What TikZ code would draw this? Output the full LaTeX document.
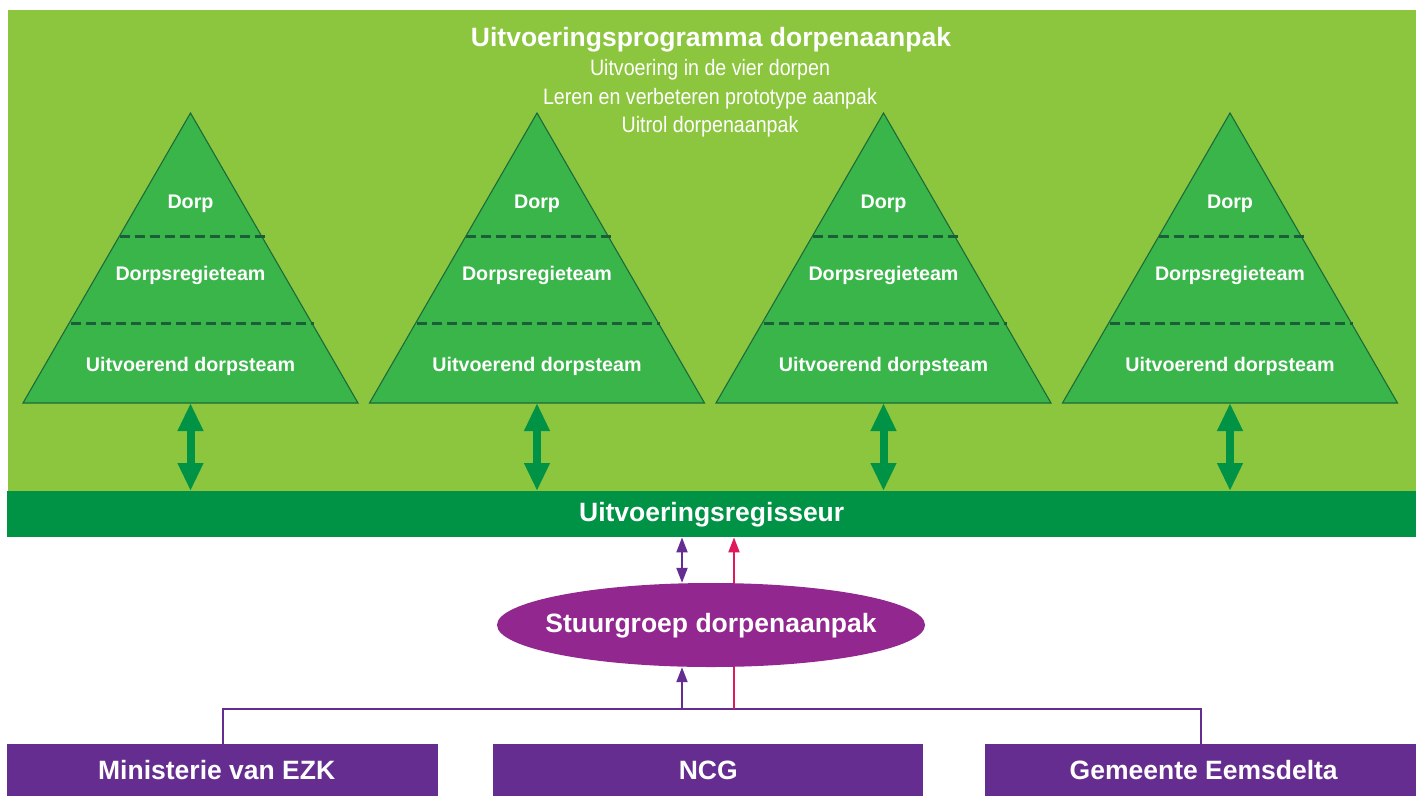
\documentclass[tikz,border=0pt]{standalone}
\usepackage{fontspec}
\setmainfont{Liberation Sans}
\newfontfamily\narrowfont[FakeStretch=0.88]{Liberation Sans}
\usetikzlibrary{arrows.meta,shapes.geometric,calc}
\definecolor{lgreen}{HTML}{8CC63F}
\definecolor{tgreen}{HTML}{39B54A}
\definecolor{dgreen}{HTML}{009245}
\definecolor{edgegreen}{HTML}{1B6B3A}
\definecolor{dashgreen}{HTML}{1D5E3A}
\definecolor{boxpurple}{HTML}{662D91}
\definecolor{ellpurple}{HTML}{92278F}
\definecolor{redline}{HTML}{E0195A}
\tikzset{
  bigtxt/.style={text=white,font=\fontsize{26.5}{30}\selectfont\bfseries,inner sep=0pt},
  tritxt/.style={text=white,font=\fontsize{19.7}{22}\selectfont\bfseries,inner sep=0pt,anchor=base},
  subtxt/.style={text=white,font=\fontsize{22.3}{26}\selectfont\narrowfont,inner sep=0pt,anchor=base},
  tri/.style={fill=tgreen,draw=edgegreen,line width=1.1pt,line join=miter},
  tridash/.style={draw=dashgreen,line width=3pt,dash pattern=on 10pt off 5pt},
  garrow/.style={draw=dgreen,line width=8pt,{Triangle[width=24pt,length=28pt]}-{Triangle[width=24pt,length=28pt]}},
  orgbox/.style={bigtxt,fill=boxpurple,minimum width=431pt,minimum height=52pt,text height=19pt,text depth=0pt},
  pline/.style={draw=boxpurple,line width=2pt},
  ptip/.style={-{Triangle[width=11pt,length=15pt]}},
  pdtip/.style={{Triangle[width=11pt,length=15pt]}-{Triangle[width=11pt,length=15pt]}},
}
\begin{document}
\begin{tikzpicture}[x=1pt,y=-1pt]
\useasboundingbox (0,0) rectangle (1421,796);
\fill[white] (0,0) rectangle (1421,796);
% green panel
\node[fill=lgreen,minimum width=1408pt,minimum height=481pt,inner sep=0pt,anchor=north west] (panel) at (8,10) {};
% title
\node[bigtxt,anchor=base] (title) at (711,46) {Uitvoeringsprogramma dorpenaanpak};
\node[subtxt] (sub1) at (710,75) {Uitvoering in de vier dorpen};
\node[subtxt] (sub2) at (710,104) {Leren en verbeteren prototype aanpak};
\node[subtxt] (sub3) at (710,132) {Uitrol dorpenaanpak};
% bar
\node[bigtxt,fill=dgreen,minimum width=1409pt,minimum height=46pt,text height=19pt,text depth=4pt,anchor=north west] (bar) at (7,491) {Uitvoeringsregisseur};
% triangles
\foreach \cx/\n in {190.5/1,537/2,883.5/3,1230/4}{
  \coordinate (apex\n) at (\cx,113);
  \coordinate (base\n) at (\cx,403);
  \filldraw[tri] (apex\n) -- ($(base\n)+(-167.5,0)$) -- ($(base\n)+(167.5,0)$) -- cycle;
  \draw[tridash] ($(apex\n)+(-71,123)$) -- ($(apex\n)+(75,123)$);
  \draw[tridash] ($(apex\n)+(-120,210)$) -- ($(apex\n)+(123,210)$);
  \node[tritxt] (dorp\n) at ($(apex\n)+(0,95)$) {Dorp};
  \node[tritxt] (regie\n) at ($(apex\n)+(0,167)$) {Dorpsregieteam};
  \node[tritxt] (uitv\n) at ($(apex\n)+(0,258)$) {Uitvoerend dorpsteam};
  \draw[garrow] (base\n) -- (base\n |- bar.north);
}
% bottom boxes
\node[orgbox,anchor=north west] (min) at (7,744) {\hspace*{-12pt}Ministerie van EZK};
\node[orgbox,anchor=north west,minimum width=430pt] (ncg) at (493,744) {NCG};
\node[orgbox,anchor=north west] (gem) at (985,744) {Gemeente Eemsdelta\hspace*{-6pt}};
% connectors
\coordinate (jp) at (682,709);
\coordinate (jr) at (734,709);
\draw[pline] (min.north) -- (min.north |- jp) -| (gem.north);
\draw[draw=redline,line width=2pt,ptip] (jr) -- (jr |- bar.south);
% ellipse
\node[ellipse,fill=ellpurple,minimum width=428pt,minimum height=84pt,inner sep=0pt] (ell) at (711,625) {};
\node[bigtxt,anchor=base] (elltxt) at (711,632) {Stuurgroep dorpenaanpak};
\draw[pline,ptip] (jp) -- (jp |- ell.south);
\draw[pline,pdtip] (jp |- ell.north) -- (jp |- bar.south);
\end{tikzpicture}
\end{document}
